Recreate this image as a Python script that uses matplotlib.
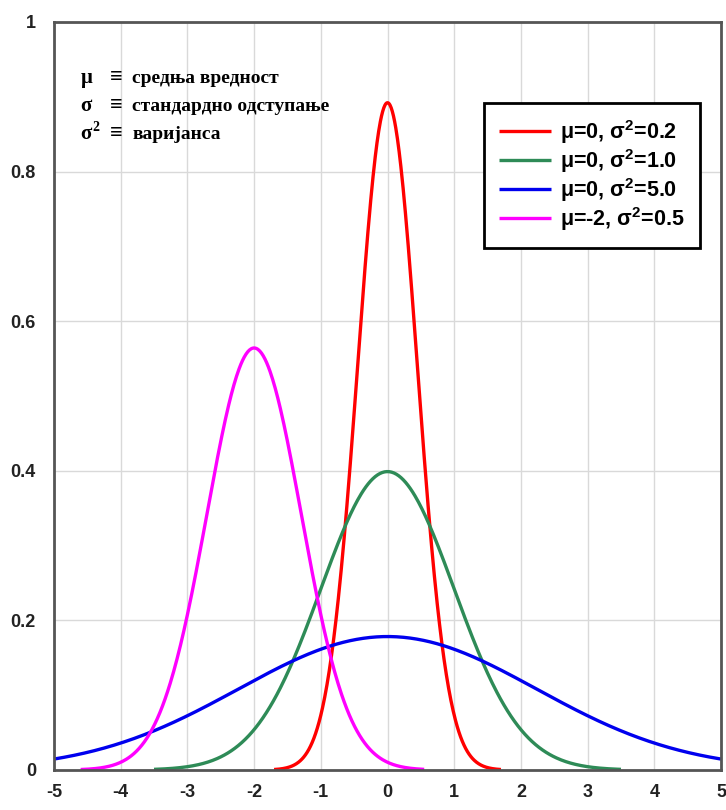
import numpy as np
import matplotlib
matplotlib.use('Agg')
import matplotlib.pyplot as plt

plt.rcParams['axes.unicode_minus'] = False
plt.rcParams['mathtext.fontset'] = 'custom'
plt.rcParams['mathtext.rm'] = 'Liberation Sans:bold'
plt.rcParams['mathtext.it'] = 'Liberation Sans:bold'
plt.rcParams['mathtext.bf'] = 'Liberation Sans:bold'

# Normal distributions: mean, variance, drawn range and colour
means = [0, 0, 0, -2]
variances = [0.2, 1.0, 5.0, 0.5]
x_from = [-1.7, -3.5, -5.0, -4.6]
x_to = [1.7, 3.5, 5.0, 0.55]
colors = ['#ff0000', '#2e8b57', '#0000ee', '#ff00ff']
labels = ['μ=0, σ$^2$=0.2', 'μ=0, σ$^2$=1.0', 'μ=0, σ$^2$=5.0', 'μ=-2, σ$^2$=0.5']

x_ticks = [-5, -4, -3, -2, -1, 0, 1, 2, 3, 4, 5]
y_ticks = [0, 0.2, 0.4, 0.6, 0.8, 1]
y_tick_labels = ['0', '0.2', '0.4', '0.6', '0.8', '1']

notes = [('μ', 'средња вредност'), ('σ', 'стандардно одступање'), ('σ', 'варијанса')]

fig = plt.figure(figsize=(7.26, 8.10), dpi=100)
ax = fig.add_axes([54 / 726, 1 - 770 / 810, 667 / 726, 748 / 810])

# Draw the curves
for mu, var, a, b, c, lab in zip(means, variances, x_from, x_to, colors, labels):
    x = np.linspace(a, b, 400)
    y = np.exp(-(x - mu) ** 2 / (2 * var)) / np.sqrt(2 * np.pi * var)
    ax.plot(x, y, color=c, lw=2.4, label=lab, solid_capstyle='butt')

ax.set_xlim(-5, 5)
ax.set_ylim(0, 1)
ax.set_xticks(x_ticks)
ax.set_yticks(y_ticks)
ax.set_yticklabels(y_tick_labels)
ax.grid(True, color='#d9d9d9', lw=1)
ax.set_axisbelow(True)
ax.tick_params(length=0, labelsize=13, colors='#222222')
ax.tick_params(axis='x', pad=10)
ax.tick_params(axis='y', pad=13)
for t in ax.get_xticklabels() + ax.get_yticklabels():
    t.set_fontweight('bold')
    t.set_family(['Liberation Sans', 'DejaVu Sans'])
for s in ax.spines.values():
    s.set_color('#555555')
    s.set_linewidth(2)

# Legend
leg = ax.legend(loc='upper right', bbox_to_anchor=(0.968, 0.892), borderaxespad=0,
                fancybox=False, framealpha=1, edgecolor='black',
                handlelength=2.4, handletextpad=0.42, labelspacing=0.05,
                borderpad=0.7,
                prop={'family': ['Liberation Sans', 'DejaVu Sans'], 'weight': 'bold', 'size': 15.5})
leg.get_frame().set_linewidth(2)

# Symbol notes in the upper left
serif = ['Liberation Serif', 'DejaVu Serif']
for i, (sym, txt) in enumerate(notes):
    yy = 0.925 - i * 0.0375
    ax.text(0.040, yy, sym, transform=ax.transAxes, va='center', ha='left',
            fontsize=15, fontweight='bold', family=serif)
    if i == 2:
        ax.text(0.058, yy + 0.009, '2', transform=ax.transAxes, va='center', ha='left',
                fontsize=10, fontweight='bold', family=serif)
    ax.text(0.084, yy, '≡', transform=ax.transAxes, va='center', ha='left',
            fontsize=16, fontweight='bold', family=serif)
    ax.text(0.117, yy, txt, transform=ax.transAxes, va='center', ha='left',
            fontsize=14, fontweight='bold', family=serif)

plt.savefig('out.png', dpi=100)
